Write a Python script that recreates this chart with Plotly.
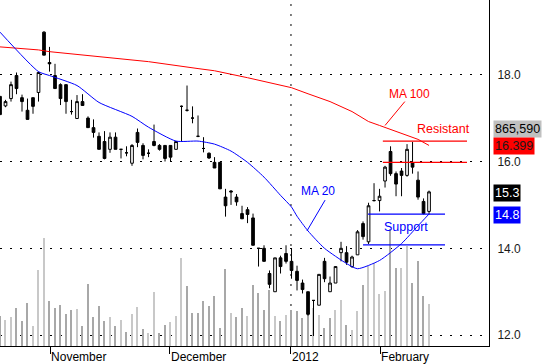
import plotly.graph_objects as go

# ---------------- data ----------------
day = list(range(79))
open_ = [17.50, 17.28, 17.45, 17.98, 17.47, 17.18, 17.47, 17.59, 18.98, 18.28,
         17.98, 17.77, 17.77, 17.15, 16.99, 17.38, 17.00, 16.78, 16.58, 16.46,
         16.28, 16.56, 16.28, 16.20, 15.96, 16.67, 16.37, 16.19, 16.46, 16.37,
         16.37, 16.37, 16.28, 17.27, 17.18, 17.00, 16.58, 16.30, 16.19, 15.98,
         15.98, 15.18, 15.32, 15.18, 14.80, 14.89, 14.70, 14.00, 14.00, 13.42,
         13.00, 13.78, 13.88, 13.70, 13.47, 13.20, 13.00, 12.80, 12.69, 13.70,
         13.00, 13.20, 13.90, 13.90, 13.58, 13.85, 14.57, 14.15, 15.10, 15.10,
         15.55, 16.23, 15.72, 15.78, 15.68, 15.97, 15.57, 15.08, 14.85]
high = [17.50, 17.42, 17.84, 18.05, 17.54, 17.45, 17.47, 18.07, 19.00, 18.64,
        18.25, 17.80, 17.77, 17.42, 17.53, 17.55, 17.04, 16.97, 16.67, 16.70,
        16.67, 16.67, 16.28, 16.35, 16.40, 16.76, 16.42, 16.28, 16.85, 16.40,
        16.37, 16.37, 16.46, 17.29, 17.75, 17.27, 17.06, 16.56, 16.21, 16.10,
        15.98, 15.37, 15.34, 15.25, 14.98, 14.95, 14.80, 14.00, 14.07, 13.49,
        13.78, 13.83, 14.07, 14.00, 13.60, 13.28, 13.00, 12.80, 13.40, 13.78,
        13.35, 13.58, 14.15, 14.05, 13.83, 14.42, 14.62, 15.05, 15.50, 15.37,
        15.90, 16.35, 15.77, 15.85, 16.40, 16.45, 15.77, 15.15, 15.33]
low = [17.08, 17.25, 17.38, 17.55, 17.15, 16.97, 17.10, 17.38, 18.45, 18.07,
       17.68, 17.30, 17.10, 17.08, 16.99, 17.29, 16.78, 16.55, 16.28, 16.05,
       16.20, 16.28, 16.07, 16.12, 15.90, 16.33, 16.05, 16.10, 16.35, 16.25,
       16.00, 16.00, 16.28, 16.46, 17.15, 16.88, 16.56, 16.21, 16.06, 15.85,
       15.37, 14.73, 15.00, 14.98, 14.68, 14.58, 14.07, 13.58, 13.70, 13.08,
       13.00, 13.42, 13.65, 13.30, 13.03, 12.96, 12.45, 11.98, 12.69, 13.22,
       13.00, 13.20, 13.70, 13.62, 13.55, 13.85, 14.20, 14.10, 15.08, 14.85,
       15.40, 15.67, 15.20, 15.20, 15.65, 15.72, 15.12, 14.78, 14.78]
close = [17.08, 17.38, 17.77, 17.68, 17.38, 16.97, 17.27, 18.05, 18.45, 18.25,
         17.68, 17.45, 17.38, 17.15, 17.38, 17.29, 16.78, 16.67, 16.28, 16.07,
         16.56, 16.28, 16.28, 16.20, 16.37, 16.44, 16.14, 16.19, 16.37, 16.28,
         16.07, 16.10, 16.46, 17.27, 17.18, 17.00, 16.58, 16.30, 16.08, 15.85,
         15.37, 14.98, 15.30, 15.07, 14.68, 14.78, 14.07, 14.00, 13.70, 13.17,
         13.78, 13.58, 13.70, 13.49, 13.26, 13.05, 12.48, 12.80, 13.40, 13.30,
         13.20, 13.58, 14.00, 13.68, 13.80, 14.38, 14.27, 14.98, 15.10, 15.20,
         15.87, 15.72, 15.48, 15.68, 16.28, 15.87, 15.18, 14.80, 15.30]
volume = [618, 536, 597, 783, 515, 886, 412, 1566, 2245, 927,
          783, 845, 659, 742, 762, 412, 1277, 597, 824, 515,
          597, 412, 536, 288, 659, 803, 350, 268, 1112, 268,
          433, 494, 618, 1833, 1236, 680, 680, 927, 824, 1030,
          371, 1586, 680, 597, 783, 618, 1257, 1092, 742, 1154,
          618, 515, 639, 742, 721, 577, 989, 783, 639, 371,
          577, 742, 948, 433, 330, 721, 1257, 1648, 1710, 1071,
          1133, 2431, 1607, 1607, 2081, 1298, 1751, 1030, 865.59]  # thousands

ma100_day = [0, 7, 9, 18, 27, 36, 39, 45, 49, 53, 56, 60, 64, 67, 69, 73, 76, 78]
ma100 = [18.64, 18.57, 18.53, 18.41, 18.30, 18.14, 18.09, 17.93, 17.82, 17.70,
         17.56, 17.38, 17.15, 16.92, 16.83, 16.65, 16.51, 16.37]
ma20_day = [0, 7, 9, 14, 18, 24, 27, 32, 36, 39, 42, 45, 48, 51, 53, 54, 56, 59,
            63, 65, 69, 73, 76, 78]
ma20 = [18.98, 18.07, 17.98, 17.75, 17.36, 17.04, 16.79, 16.47, 16.47, 16.40,
        16.24, 15.98, 15.64, 15.22, 14.95, 14.74, 14.40, 14.00, 13.65, 13.53,
        13.72, 14.11, 14.52, 14.79]

month_tick_days = [9.1, 30.9, 52.9, 69.1]
month_tick_labels = ["November", "December", "2012", "February"]
year_start_day = 52.9
price_ticks = [12, 14, 16, 18]
price_tick_labels = ["12.0", "14.0", "16.0", "18.0"]

resistance_levels = [16.47, 15.98]
support_levels = [14.79, 14.08]

last_volume_label = "865,590"
resistance_label = "16.399"
last_close_label = "15.3"
support_label = "14.8"

# ---------------- figure ----------------
FONT = "Liberation Sans, Arial, sans-serif"
PLOT_H = 348.0

vol_colors = ["#c8c8c8" if (i > 0 and close[i] >= close[i - 1]) else "#a8a8a8"
              for i in range(len(close))]

fig = go.Figure()
fig.add_trace(go.Bar(x=day, y=volume, width=0.3, marker=dict(color=vol_colors, line=dict(width=0)),
                     xaxis="x", yaxis="y", hoverinfo="skip"))
fig.add_trace(go.Scatter(x=ma100_day, y=ma100, mode="lines", line=dict(color="#ff0000", width=1),
                         xaxis="x", yaxis="y2", hoverinfo="skip"))
fig.add_trace(go.Scatter(x=ma20_day, y=ma20, mode="lines", line=dict(color="#0000ff", width=1, shape="spline", smoothing=0.6),
                         xaxis="x", yaxis="y2", hoverinfo="skip"))
fig.add_trace(go.Candlestick(x=day, open=open_, high=high, low=low, close=close,
                             increasing=dict(fillcolor="white", line=dict(color="black", width=1)),
                             decreasing=dict(fillcolor="black", line=dict(color="black", width=1)),
                             whiskerwidth=0, xaxis="x", yaxis="y2", hoverinfo="skip"))

shapes = []
# 2012 vertical dotted gridline
shapes.append(dict(type="line", xref="x", yref="paper", x0=year_start_day, x1=year_start_day, y0=0, y1=1,
                   line=dict(color="black", width=1, dash="2px,8px"), layer="below"))
for lv in resistance_levels:
    shapes.append(dict(type="line", xref="x", yref="y2", x0=69.6, x1=84.9, y0=lv, y1=lv,
                       line=dict(color="#ff0000", width=1.3)))
for lv, x0 in zip(support_levels, [66.9, 66.0]):
    shapes.append(dict(type="line", xref="x", yref="y2", x0=x0, x1=80.9, y0=lv, y1=lv,
                       line=dict(color="#0000ff", width=1.3)))
# pointer lines
shapes.append(dict(type="line", xref="x", yref="y2", x0=73.6, y0=17.38, x1=70.0, y1=16.83,
                   line=dict(color="#ff0000", width=1)))
shapes.append(dict(type="line", xref="x", yref="y2", x0=59.1, y0=15.11, x1=55.8, y1=14.40,
                   line=dict(color="#0000ff", width=1)))

annotations = [
    dict(text="MA 100", x=74.5, y=17.56, xref="x", yref="y2", showarrow=False,
         font=dict(family=FONT, size=12, color="#ff0000")),
    dict(text="Resistant", x=80.7, y=16.76, xref="x", yref="y2", showarrow=False,
         font=dict(family=FONT, size=12.5, color="#ff0000")),
    dict(text="MA 20", x=57.8, y=15.32, xref="x", yref="y2", showarrow=False,
         font=dict(family=FONT, size=12, color="#0000ff")),
    dict(text="Support", x=73.8, y=14.50, xref="x", yref="y2", showarrow=False,
         font=dict(family=FONT, size=12.5, color="#0000ff")),
]

def side_box(text, ypx, bg, fg):
    return dict(text=text, xref="paper", yref="paper", x=493 / 489.0, y=1 - ypx / PLOT_H,
                xanchor="left", yanchor="middle", showarrow=False, bgcolor=bg, borderpad=1,
                font=dict(family=FONT, size=12.5, color=fg))

annotations += [
    side_box(last_volume_label, 130, "#c0c0c0", "black"),
    side_box(resistance_label, 146.5, "#ff0000", "#1a1a1a"),
    side_box(last_close_label, 194.5, "black", "white"),
    side_box(support_label, 216, "#0000ff", "white"),
]

fig.update_layout(
    width=550, height=364,
    margin=dict(l=0, r=61, t=0, b=16),
    paper_bgcolor="white", plot_bgcolor="white",
    showlegend=False, hovermode=False,
    font=dict(family=FONT, size=12, color="black"),
    bargap=0,
    xaxis=dict(range=[0, 88.9], showgrid=False, zeroline=False, showline=True,
               linecolor="black", linewidth=1, ticks="outside", ticklen=7, tickcolor="black",
               tickvals=month_tick_days, ticktext=month_tick_labels,
               ticklabelposition="outside right", rangeslider=dict(visible=False),
               tickfont=dict(family=FONT, size=12, color="black")),
    yaxis=dict(range=[0, PLOT_H * 20.6], visible=False, fixedrange=True),
    yaxis2=dict(overlaying="y", side="right", range=[11.75, 19.72],
                tickvals=price_ticks, ticktext=price_tick_labels,
                showgrid=True, gridcolor="black", gridwidth=1, griddash="2px,8px",
                zeroline=False, showline=True, linecolor="black", linewidth=1,
                ticks="", ticklabelstandoff=5,
                tickfont=dict(family=FONT, size=12, color="#1a1a1a")),
    shapes=shapes, annotations=annotations,
)

fig.write_html("out.html")
